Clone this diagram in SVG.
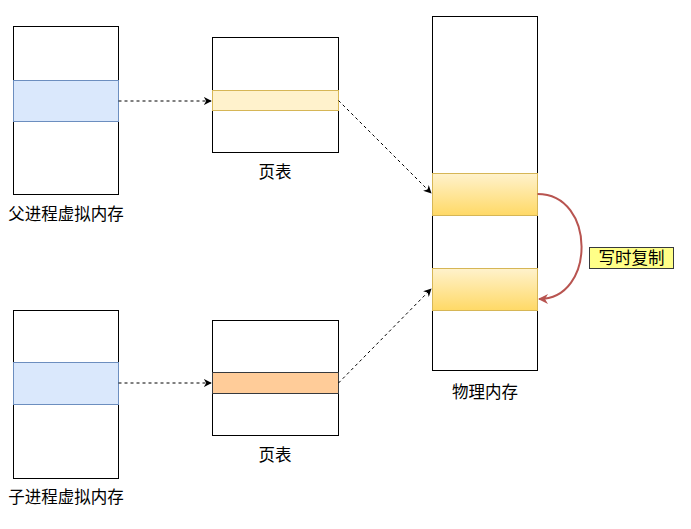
<svg xmlns="http://www.w3.org/2000/svg" width="691" height="529" viewBox="0 0 691 529">
<style>
.box{fill:#fff;stroke:#000;stroke-width:1}
.blue{fill:#dae8fc;stroke:#6c8ebf;stroke-width:1}
.yel{fill:#fff2cc;stroke:#d6b656;stroke-width:1}
.org{fill:#ffcc99;stroke:#36393d;stroke-width:1}
.gold{fill:url(#g);stroke:#d6b656;stroke-width:1}
.lbl{font-family:"Noto Sans CJK SC","Liberation Sans",sans-serif;font-size:16.5px;fill:#000;text-anchor:middle}
.dash{fill:none;stroke:#000;stroke-width:1;stroke-dasharray:3 3}
</style>
<defs>
<linearGradient id="g" x1="0" y1="0" x2="0" y2="1">
<stop offset="0" stop-color="#fff2cc"/>
<stop offset="1" stop-color="#ffd966"/>
</linearGradient>
<marker id="ab" viewBox="0 0 10 10" refX="9" refY="5" markerWidth="8" markerHeight="8" orient="auto" markerUnits="userSpaceOnUse">
<path d="M0,0 L10,5 L0,10 L3,5 Z" fill="#000"/>
</marker>
<marker id="ar" viewBox="0 0 10 10" refX="9" refY="5" markerWidth="10" markerHeight="10" orient="auto" markerUnits="userSpaceOnUse">
<path d="M0,0 L10,5 L0,10 L3,5 Z" fill="#b85450"/>
</marker>
</defs>
<g id="parent-vm">
<rect class="box" x="13.5" y="26.5" width="105" height="168"/>
<rect class="blue" x="13.5" y="80.5" width="105" height="41"/>
<text class="lbl" x="66" y="220">父进程虚拟内存</text>
</g>
<g id="parent-pt">
<rect class="box" x="212.5" y="37.5" width="126" height="115"/>
<rect class="yel" x="212.5" y="90.5" width="126" height="20"/>
<text class="lbl" x="275" y="178">页表</text>
</g>
<g id="phys">
<rect class="box" x="432.5" y="16.5" width="105" height="354"/>
<rect class="gold" x="432.5" y="173.5" width="105" height="42"/>
<rect class="gold" x="432.5" y="268.5" width="105" height="42"/>
<text class="lbl" x="485" y="398">物理内存</text>
</g>
<g id="child-vm">
<rect class="box" x="13.5" y="310.5" width="105" height="168"/>
<rect class="blue" x="13.5" y="362.5" width="105" height="42"/>
<text class="lbl" x="66" y="503">子进程虚拟内存</text>
</g>
<g id="child-pt">
<rect class="box" x="212.5" y="320.5" width="126" height="115"/>
<rect class="org" x="212.5" y="372.5" width="126" height="21"/>
<text class="lbl" x="275" y="461">页表</text>
</g>
<g id="cow-label">
<rect x="589.5" y="247.5" width="84" height="21" fill="#ffff88" stroke="#36393d"/>
<text class="lbl" x="631.5" y="264">写时复制</text>
</g>
<g id="connectors">
<path class="dash" d="M118.5,101 L211,101" marker-end="url(#ab)"/>
<path class="dash" d="M338.5,100.5 L431,193" marker-end="url(#ab)"/>
<path class="dash" d="M118.5,383 L211,383" marker-end="url(#ab)"/>
<path class="dash" d="M338.5,383 L431,289" marker-end="url(#ab)"/>
<path d="M537.5,194 C596,194 596,299 539,299" fill="none" stroke="#b85450" stroke-width="2" marker-end="url(#ar)"/>
</g>
</svg>
